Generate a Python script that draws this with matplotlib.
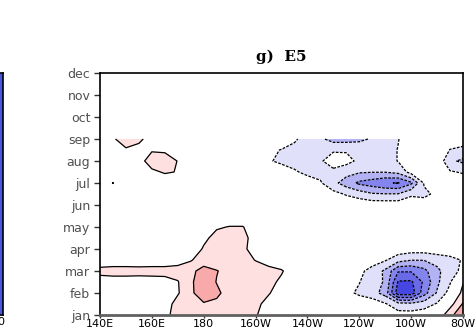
import numpy as np
import matplotlib
matplotlib.use("Agg")
import matplotlib.pyplot as plt

# longitude grid (deg E, 140E .. 280E = 80W) and month grid (jan=1 .. sep=9)
lons = [140, 145, 150, 155, 160, 165, 170, 175, 180, 185, 190, 195, 200, 205, 210,
        215, 220, 225, 230, 235, 240, 245, 250, 255, 260, 265, 270, 275, 280]
months = [1.0, 1.5, 2.0, 2.5, 3.0, 3.5, 4.0, 4.5, 5.0, 5.5, 6.0, 6.5, 7.0, 7.5, 8.0, 8.5, 9.0]

# field values, one row per month step
m10 = [0.1, 0.1, 0.1, 0.1, 0.1, 0.3, 0.8, 0.75, 0.85, 0.8, 0.75, 0.7, 0.55, 0.2, 0.1,
       0.0, 0.0, 0.0, -0.05, -0.1, -0.1, -0.15, -0.2, -0.3, -0.3, -0.2, 0.1, 0.85, 1.4]
m15 = [0.15, 0.15, 0.15, 0.15, 0.15, 0.25, 0.7, 0.9, 0.95, 0.9, 0.8, 0.75, 0.65, 0.3, 0.1,
       0.0, 0.0, -0.05, -0.1, -0.1, -0.15, -0.2, -0.45, -0.8, -0.85, -0.75, -0.45, 0.3, 1.05]
m20 = [0.2, 0.2, 0.2, 0.2, 0.2, 0.15, 0.45, 0.9, 1.3, 1.1, 0.8, 0.8, 0.75, 0.55, 0.2,
       0.05, 0.0, -0.05, -0.1, -0.35, -0.6, -0.8, -1.2, -2.8, -2.8, -1.7, -0.95, -0.3, 0.7]
m25 = [0.27, 0.27, 0.27, 0.27, 0.27, 0.3, 0.47, 0.92, 1.3, 0.98, 0.85, 0.8, 0.75, 0.65, 0.4,
       0.1, 0.0, -0.05, -0.1, -0.2, -0.48, -0.8, -1.05, -2.55, -2.58, -1.9, -1.1, -0.55, 0.45]
m30 = [0.65, 0.7, 0.7, 0.68, 0.7, 0.7, 0.7, 0.9, 1.15, 1.02, 0.85, 0.8, 0.75, 0.65, 0.55,
       0.2, 0.05, 0.0, -0.05, -0.1, -0.4, -0.65, -1.1, -1.95, -1.95, -1.65, -1.1, -0.75, -0.35]
m35 = [0.2, 0.2, 0.2, 0.2, 0.2, 0.2, 0.3, 0.45, 0.8, 0.75, 0.75, 0.7, 0.48, 0.3, 0.15,
       0.05, 0.0, 0.0, 0.0, -0.05, -0.15, -0.3, -0.45, -0.8, -0.98, -0.98, -0.85, -0.7, -0.45]
m40 = [0.1, 0.1, 0.1, 0.1, 0.1, 0.1, 0.1, 0.2, 0.55, 0.7, 0.7, 0.6, 0.3, 0.15, 0.05,
       0.0, 0.0, 0.0, 0.0, 0.0, 0.0, -0.1, -0.2, -0.2, -0.25, -0.25, -0.15, -0.1, -0.1]
m45 = [0.0, 0.0, 0.0, 0.0, 0.0, 0.05, 0.05, 0.15, 0.4, 0.65, 0.7, 0.65, 0.3, 0.1, 0.05,
       0.0, 0.0, 0.0, 0.0, 0.0, 0.0, 0.0, -0.05, -0.05, -0.05, -0.05, 0.0, 0.0, 0.0]
m50 = [0.0, 0.0, 0.0, 0.0, 0.0, 0.0, 0.0, 0.05, 0.2, 0.45, 0.52, 0.52, 0.3, 0.1, 0.0,
       0.0, 0.0, 0.0, 0.0, 0.0, 0.0, 0.0, 0.0, 0.0, 0.0, 0.0, 0.0, 0.0, 0.0]
m55 = [0.0, 0.0, 0.0, 0.0, 0.0, 0.0, 0.0, 0.0, 0.1, 0.2, 0.2, 0.2, 0.1, 0.0, 0.0,
       0.0, 0.0, 0.0, 0.0, 0.0, 0.0, 0.0, 0.0, 0.0, 0.0, 0.0, 0.0, 0.0, 0.0]
m60 = [0.0, 0.0, 0.0, 0.0, 0.0, 0.0, 0.0, 0.0, 0.0, 0.0, 0.0, 0.0, 0.0, 0.0, 0.0,
       0.0, 0.0, -0.05, -0.1, -0.15, -0.15, -0.2, -0.2, -0.2, -0.15, -0.3, -0.15, -0.05, 0.0]
m65 = [0.0, 0.1, 0.0, 0.0, 0.0, 0.0, 0.0, 0.0, 0.0, 0.0, 0.0, 0.0, 0.0, 0.0, 0.0,
       0.0, -0.05, -0.1, -0.35, -0.55, -0.75, -0.95, -0.98, -0.98, -0.6, -0.6, -0.4, -0.1, 0.0]
m70 = [0.0, 0.52, 0.0, 0.0, 0.0, 0.2, 0.1, 0.0, 0.0, 0.0, 0.0, 0.0, 0.0, 0.0, 0.0,
       -0.05, -0.3, -0.45, -0.85, -1.25, -1.6, -1.75, -1.95, -2.03, -1.6, -0.45, -0.1, -0.3, -0.2]
m75 = [0.0, 0.1, 0.0, 0.1, 0.4, 0.55, 0.48, 0.1, 0.0, 0.0, 0.0, 0.0, 0.0, -0.1, -0.25,
       -0.45, -0.6, -0.65, -0.6, -0.8, -0.95, -0.98, -0.98, -0.85, -0.3, -0.1, -0.1, -0.45, -0.55]
m80 = [0.0, 0.0, 0.0, 0.3, 0.75, 0.8, 0.48, 0.1, 0.0, 0.0, 0.0, 0.0, -0.1, -0.45, -0.6,
       -0.65, -0.65, -0.55, -0.3, -0.35, -0.6, -0.75, -0.7, -0.48, -0.2, -0.1, -0.1, -0.9, -1.1]
m85 = [0.1, 0.3, 0.45, 0.35, 0.45, 0.4, 0.2, 0.05, 0.0, 0.0, 0.0, 0.0, -0.1, -0.4, -0.52,
       -0.6, -0.65, -0.6, -0.55, -0.55, -0.7, -0.75, -0.7, -0.48, -0.2, -0.05, -0.1, -0.52, -0.6]
m90 = [0.1, 0.45, 0.7, 0.6, 0.3, 0.1, 0.0, 0.0, 0.0, 0.0, 0.0, 0.0, 0.0, -0.1, -0.2,
       -0.45, -0.65, -0.9, -1.2, -1.2, -1.1, -0.95, -0.7, -0.52, -0.2, 0.0, -0.05, -0.2, -0.3]

field = np.array([m10, m15, m20, m25, m30, m35, m40, m45, m50, m55, m60, m65, m70,
                  m75, m80, m85, m90])

month_labels = ["jan", "feb", "mar", "apr", "may", "jun", "jul", "aug", "sep", "oct", "nov", "dec"]
lon_ticks = [140, 160, 180, 200, 220, 240, 260, 280]
lon_labels = ["140E", "160E", "180", "160W", "140W", "120W", "100W", "80W"]

levels = [-3, -2.5, -2, -1.5, -1, -0.5, 0.5, 1, 1.5, 2]
fill_colors = ["#4646e2", "#6a6ae8", "#8484ee", "#b2b2f4", "#e0e0fb", "#ffffff",
               "#ffe0e0", "#f8aaaa", "#f07a7a"]
line_levels = [-2.5, -2, -1.5, -1, -0.5, 0.5, 1, 1.5]

W, H = 477, 336
fig = plt.figure(figsize=(W / 100, H / 100), dpi=100)

# main panel
ax = fig.add_axes([100 / W, (H - 315) / H, 363 / W, 242 / H])
X, Y = np.meshgrid(lons, months)
ax.contourf(X, Y, field, levels=levels, colors=fill_colors)
cs = ax.contour(X, Y, field, levels=line_levels, colors="black", linewidths=0.9)
cs.set_linestyles([(0, (2.2, 1.1)) if lv < 0 else "solid" for lv in line_levels])

ax.set_xlim(140, 280)
ax.set_ylim(1, 12)
ax.set_xticks(lon_ticks)
ax.set_xticklabels(lon_labels, fontsize=8, color="black")
ax.set_yticks(range(1, 13))
ax.set_yticklabels(month_labels, fontsize=9, color="#505050")
ax.tick_params(axis="y", direction="out", length=4, width=1, color="#333333", pad=3)
ax.tick_params(axis="x", direction="out", length=2, width=1, color="#333333", pad=1)
for side in ["left", "right", "top"]:
    ax.spines[side].set_linewidth(1.2)
    ax.spines[side].set_color("black")
ax.spines["bottom"].set_linewidth(2)
ax.spines["bottom"].set_color("#606060")

ax.set_title("g)  E5", family="DejaVu Serif", fontweight="bold", fontsize=11, pad=9)

# edge of neighbouring panel on the left
axl = fig.add_axes([-60 / W, (H - 315) / H, 63 / W, 242 / H])
axl.set_facecolor("#4a58e0")
axl.set_xticks([])
axl.set_yticks([])
for s in axl.spines.values():
    s.set_linewidth(1.2)
    s.set_color("black")
fig.text(1 / W, 1 - 322 / H, "0", fontsize=8, ha="center", va="center", color="black")

fig.savefig("out.png", dpi=100)
